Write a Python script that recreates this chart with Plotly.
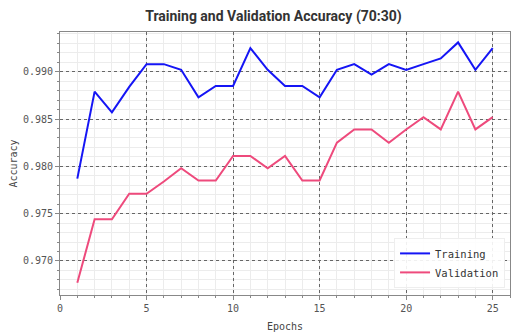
import plotly.graph_objects as go

# ── Data ──────────────────────────────────────────────────────────────────────
epochs = list(range(1, 26))
train_acc = [0.9787, 0.9879, 0.9857, 0.9884, 0.9908, 0.9908, 0.9902, 0.9873, 0.9885, 0.9885,
             0.9925, 0.9902, 0.9885, 0.9885, 0.9873, 0.9902, 0.9908, 0.9897, 0.9908, 0.9902,
             0.9908, 0.9914, 0.9931, 0.9902, 0.9925]
val_acc = [0.9677, 0.9744, 0.9744, 0.9771, 0.9771, 0.9784, 0.9798, 0.9785, 0.9785, 0.9811,
           0.9811, 0.9798, 0.9811, 0.9785, 0.9785, 0.9825, 0.9839, 0.9839, 0.9825, 0.9839,
           0.9852, 0.9839, 0.9879, 0.9839, 0.9852]
y_ticks = [0.970, 0.975, 0.980, 0.985, 0.990]
x_ticks = [0, 5, 10, 15, 20, 25]

MONO = "DejaVu Sans Mono"

fig = go.Figure()
fig.add_trace(go.Scatter(x=epochs, y=train_acc, mode="lines", name="Training",
                         line=dict(color="#1515f5", width=2)))
fig.add_trace(go.Scatter(x=epochs, y=val_acc, mode="lines", name="Validation",
                         line=dict(color="#ee4a7c", width=2)))

axis_common = dict(
    showline=True, linecolor="#888888", linewidth=1, mirror=True,
    gridcolor="#666666", griddash="dot", gridwidth=1,
    ticks="outside", tickcolor="#888888", ticklen=4,
    tickfont=dict(family=MONO, size=10, color="#555555"),
    zeroline=False, automargin=False,
)
minor_common = dict(showgrid=True, gridcolor="#ececec", gridwidth=1, griddash="solid",
                    ticks="outside", ticklen=2, tickcolor="#888888")

# page body has an 8px margin, so the margins below are offset to compensate
fig.update_layout(
    width=531, height=336,
    margin=dict(l=52, r=29, t=24, b=49),
    paper_bgcolor="white", plot_bgcolor="white",
    title=dict(text="<b>Training and Validation Accuracy (70:30)</b>", x=0.5, xanchor="center",
               y=0.976, yanchor="middle",
               font=dict(family="Roboto", size=14, color="#333333")),
    xaxis=dict(range=[0, 26], tickvals=x_ticks, **axis_common,
               minor=dict(dtick=1, **minor_common),
               title=dict(text="Epochs", font=dict(family=MONO, size=10, color="#444444"),
                          standoff=9)),
    yaxis=dict(range=[0.9664, 0.9942], tickvals=y_ticks, tickformat=".3f", **axis_common,
               minor=dict(dtick=0.001, tick0=0.97, **minor_common),
               title=dict(text="Accuracy", font=dict(family=MONO, size=10, color="#444444"),
                          standoff=11)),
    legend=dict(x=0.989, y=0.027, xanchor="right", yanchor="bottom",
                bgcolor="rgba(255,255,255,0.9)", bordercolor="#eeeeee", borderwidth=1,
                itemwidth=30, tracegroupgap=0,
                font=dict(family=MONO, size=10.5, color="#333333")),
    showlegend=True,
)

fig.write_html("out.html")
